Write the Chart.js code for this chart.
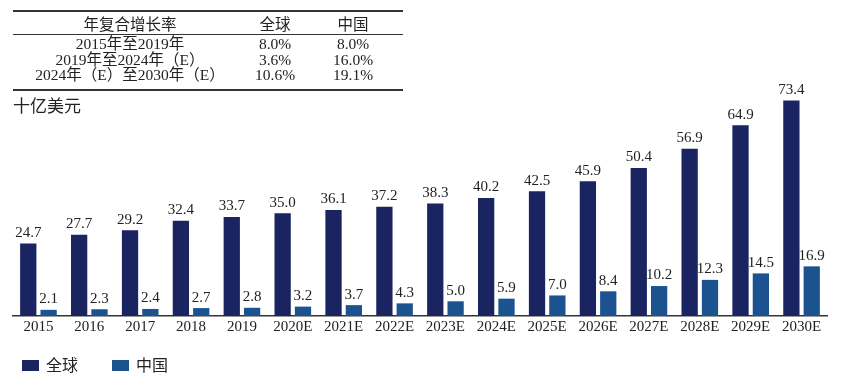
<!DOCTYPE html>
<html>
<head>
<meta charset="utf-8">
<script src="https://cdn.jsdelivr.net/npm/chart.js@4/dist/chart.umd.min.js"></script>
<style>
	html, body { margin: 0; padding: 0; background: #fff; }
	#wrap { position: relative; width: 845px; height: 389px; }
	#chart { position: absolute; left: 0; top: 0; }
	.cagr { position: absolute; left: 13px; top: 10px; width: 390px; border-collapse: collapse; table-layout: fixed;
		font-family: "Liberation Serif", "Noto Sans CJK SC", serif; font-size: 15.5px; color: #222; }
	.cagr th { font-weight: normal; height: 21px; padding: 0; border-top: 2px solid #333; border-bottom: 1px solid #333; }
	.cagr td { padding: 0; height: 15.5px; line-height: 15.5px; text-align: center; white-space: nowrap; }
	.cagr tr.first td { padding-top: 1px; }
	.cagr tr.last td { border-bottom: 2px solid #333; padding-bottom: 6px; }
	.unit { position: absolute; left: 13px; top: 92px; font-family: "Noto Sans CJK SC", sans-serif; font-size: 17px; color: #222; }
</style>
</head>
<body>
<div id="wrap">
	<canvas id="chart" width="845" height="389"></canvas>
	<table class="cagr">
		<tr><th style="width:60%">年复合增长率</th><th style="width:14.4%">全球</th><th>中国</th></tr>
		<tr class="first"><td>2015年至2019年</td><td>8.0%</td><td>8.0%</td></tr>
		<tr><td>2019年至2024年（E）</td><td>3.6%</td><td>16.0%</td></tr>
		<tr class="last"><td>2024年（E）至2030年（E）</td><td>10.6%</td><td>19.1%</td></tr>
	</table>
	<div class="unit">十亿美元</div>
</div>
<script>
	const years = ['2015', '2016', '2017', '2018', '2019', '2020E', '2021E', '2022E',
		'2023E', '2024E', '2025E', '2026E', '2027E', '2028E', '2029E', '2030E'];
	const globalValues = [24.7, 27.7, 29.2, 32.4, 33.7, 35.0, 36.1, 37.2, 38.3, 40.2, 42.5, 45.9, 50.4, 56.9, 64.9, 73.4];
	const chinaValues = [2.1, 2.3, 2.4, 2.7, 2.8, 3.2, 3.7, 4.3, 5.0, 5.9, 7.0, 8.4, 10.2, 12.3, 14.5, 16.9];

	const serif = '"Liberation Serif", "Times New Roman", serif';
	const sans = '"Noto Sans CJK SC", sans-serif';

	// value labels above each bar
	const barLabels = {
		id: 'barLabels',
		afterDatasetsDraw(chart) {
			const ctx = chart.ctx;
			ctx.save();
			ctx.font = '15px ' + serif;
			ctx.fillStyle = '#222';
			ctx.textAlign = 'center';
			ctx.textBaseline = 'bottom';
			chart.data.datasets.forEach(function (ds, i) {
				chart.getDatasetMeta(i).data.forEach(function (bar, j) {
					ctx.fillText(ds.data[j].toFixed(1), bar.x, bar.y - 3);
				});
			});
			ctx.restore();
		}
	};

	// legend row under the axis, spaced like the original
	const bottomLegend = {
		id: 'bottomLegend',
		afterDraw(chart) {
			const ctx = chart.ctx;
			const starts = [22, 112];
			ctx.save();
			ctx.font = '16px ' + sans;
			ctx.textBaseline = 'middle';
			chart.data.datasets.forEach(function (ds, i) {
				const x = starts[i];
				ctx.fillStyle = ds.backgroundColor;
				ctx.fillRect(x, 360, 17, 11);
				ctx.fillStyle = '#222';
				ctx.fillText(ds.label, x + 24, 365);
			});
			ctx.restore();
		}
	};

	new Chart(document.getElementById('chart'), {
		type: 'bar',
		data: {
			labels: years,
			datasets: [{
				label: '全球',
				data: globalValues,
				backgroundColor: '#1a2461'
			}, {
				label: '中国',
				data: chinaValues,
				backgroundColor: '#1b5391'
			}]
		},
		options: {
			responsive: false,
			animation: false,
			layout: { padding: { left: 13, right: 18, top: 81, bottom: 51 } },
			datasets: { bar: { categoryPercentage: 0.8, barPercentage: 0.8 } },
			scales: {
				x: {
					grid: { display: false, drawTicks: false },
					border: { color: '#333', width: 1.5 },
					ticks: { color: '#222', font: { family: serif, size: 15 }, padding: 2, maxRotation: 0, autoSkip: false }
				},
				y: { display: false, min: 0, max: 80 }
			},
			plugins: {
				legend: { display: false },
				tooltip: { enabled: false }
			}
		},
		plugins: [barLabels, bottomLegend]
	});
</script>
</body>
</html>
